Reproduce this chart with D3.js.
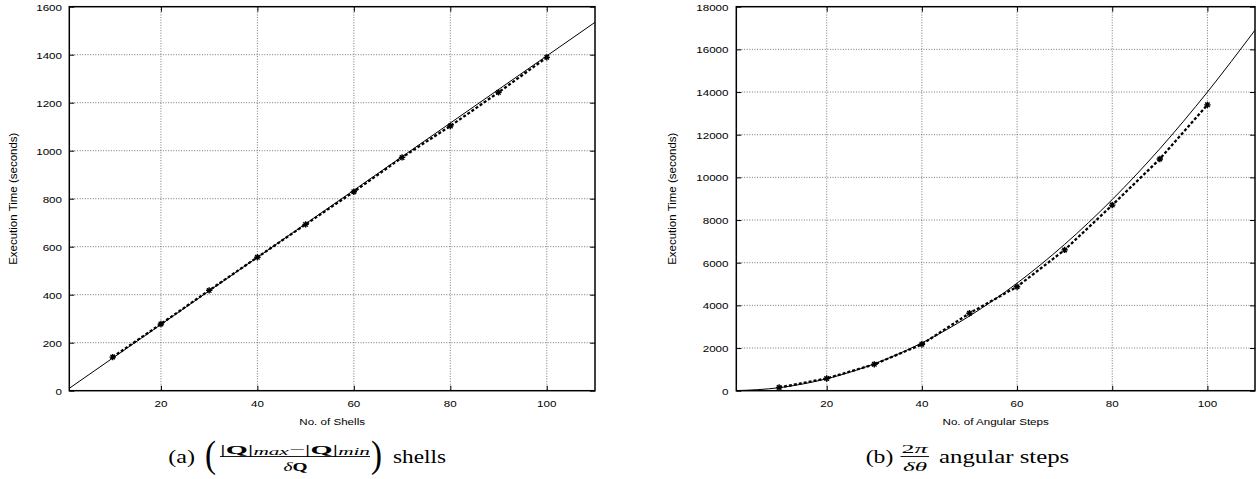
<!DOCTYPE html>
<html>
<head>
<meta charset="utf-8">
<script src="https://cdn.jsdelivr.net/npm/d3@7"></script>
<style>
  html, body { margin: 0; padding: 0; background: #fff; }
  svg { display: block; }
</style>
</head>
<body>
<svg id="chart" width="1260" height="479"></svg>
<script>
// ---------------- data ----------------
const steps = [10, 20, 30, 40, 50, 60, 70, 80, 90, 100];
const shellTimes = [140, 278, 418, 556, 693, 829, 972, 1103, 1243, 1389];
const shellFitX = [1, 110];
const shellFitY = [10, 1535];
const angularTimes = [150, 575, 1235, 2175, 3630, 4875, 6600, 8700, 10860, 13400];
const angularFitX = [1, 10, 20, 30, 40, 50, 60, 70, 80, 90, 100, 110];
const angularFitY = [0, 140, 560, 1260, 2240, 3500, 5040, 6860, 8960, 11340, 14000, 16900];
const xTicks = [20, 40, 60, 80, 100];
const shellYTicks = [0, 200, 400, 600, 800, 1000, 1200, 1400, 1600];
const angularYTicks = [0, 2000, 4000, 6000, 8000, 10000, 12000, 14000, 16000, 18000];
const xDomain = [1, 110];

const svg = d3.select("#chart");
const SANS = "'Liberation Sans', Arial, Helvetica, sans-serif";
const SERIF = "'Liberation Serif', 'Times New Roman', serif";
const SY = 0.78; // vertical squash of horizontal text in reference

function hText(g, x, y, str, anchor, size) {
  return g.append("text")
    .attr("transform", `translate(${x},${y}) scale(1,${SY})`)
    .attr("text-anchor", anchor)
    .style("font-family", SANS)
    .style("font-size", (size || 11.6) + "px")
    .attr("fill", "#000")
    .text(str);
}

function panel(opts) {
  const { x0, x1, y0, y1, yDomain, yTicks, data, fitX, fitY, xLabel, yLabelX, tickLabelRight, curve } = opts;
  const g = svg.append("g");
  const x = d3.scaleLinear().domain(xDomain).range([x0, x1]);
  const y = d3.scaleLinear().domain(yDomain).range([y1, y0]);

  // grid
  const grid = g.append("g").attr("stroke", "#555").attr("stroke-width", 0.8).attr("stroke-dasharray", "1,1.6");
  grid.selectAll("line.h").data(yTicks.filter(t => t > yDomain[0] && t < yDomain[1])).join("line")
    .attr("x1", x0).attr("x2", x1).attr("y1", d => y(d)).attr("y2", d => y(d));
  grid.selectAll("line.v").data(xTicks).join("line")
    .attr("x1", d => x(d)).attr("x2", d => x(d)).attr("y1", y0).attr("y2", y1);

  // axes with inward ticks (mirrored)
  const axL = g.append("g").attr("transform", `translate(${x0},0)`)
    .call(d3.axisLeft(y).tickValues(yTicks).tickSize(-5).tickFormat(""));
  const axR = g.append("g").attr("transform", `translate(${x1},0)`)
    .call(d3.axisRight(y).tickValues(yTicks).tickSize(-5).tickFormat(""));
  const axB = g.append("g").attr("transform", `translate(0,${y1})`)
    .call(d3.axisBottom(x).tickValues(xTicks).tickSize(-5).tickFormat(""));
  const axT = g.append("g").attr("transform", `translate(0,${y0})`)
    .call(d3.axisTop(x).tickValues(xTicks).tickSize(-5).tickFormat(""));
  [axL, axR, axB, axT].forEach(a => {
    a.select(".domain").remove();
    a.selectAll(".tick line").attr("stroke", "#000").attr("stroke-width", 1);
  });

  // tick labels
  yTicks.forEach(t => hText(g, tickLabelRight, y(t) + 4, String(t), "end"));
  xTicks.forEach(t => hText(g, x(t), 406.5, String(t), "middle"));

  // axis labels
  hText(g, (x0 + x1) / 2, 425, xLabel, "middle");
  g.append("text")
    .attr("transform", `translate(${yLabelX},${(y0 + y1) / 2}) rotate(-90)`)
    .attr("text-anchor", "middle")
    .style("font-family", SANS).style("font-size", "11.5px")
    .text("Execution Time (seconds)");

  // fit line (solid)
  const fitPts = fitX.map((v, i) => [v, fitY[i]]);
  g.append("path")
    .attr("d", d3.line().x(d => x(d[0])).y(d => y(d[1])).curve(curve)(fitPts))
    .attr("fill", "none").attr("stroke", "#000").attr("stroke-width", 1);

  // measured line (thick dashed)
  const pts = steps.map((v, i) => [v, data[i]]);
  g.append("path")
    .attr("d", d3.line().x(d => x(d[0])).y(d => y(d[1]))(pts))
    .attr("fill", "none").attr("stroke", "#000").attr("stroke-width", 2.3)
    .attr("stroke-dasharray", "3,2");

  // markers
  const s = 3.2;
  g.selectAll("path.mk").data(pts).join("path")
    .attr("d", d => {
      const cx = x(d[0]), cy = y(d[1]);
      return `M${cx - s},${cy}L${cx + s},${cy}M${cx},${cy - s}L${cx},${cy + s}` +
             `M${cx - s * 0.7},${cy - s * 0.7}L${cx + s * 0.7},${cy + s * 0.7}M${cx - s * 0.7},${cy + s * 0.7}L${cx + s * 0.7},${cy - s * 0.7}`;
    })
    .attr("stroke", "#000").attr("stroke-width", 1.4).attr("fill", "none");

  // border
  g.append("rect").attr("x", x0).attr("y", y0).attr("width", x1 - x0).attr("height", y1 - y0)
    .attr("fill", "none").attr("stroke", "#000").attr("stroke-width", 1.5);
  return g;
}

panel({
  x0: 69.3, x1: 595, y0: 6.7, y1: 390.7,
  yDomain: [0, 1600], yTicks: shellYTicks, data: shellTimes,
  fitX: shellFitX, fitY: shellFitY, xLabel: "No. of Shells",
  yLabelX: 16.5, tickLabelRight: 62, curve: d3.curveLinear
});
panel({
  x0: 736.3, x1: 1255, y0: 6.7, y1: 390.7,
  yDomain: [0, 18000], yTicks: angularYTicks, data: angularTimes,
  fitX: angularFitX, fitY: angularFitY, xLabel: "No. of Angular Steps",
  yLabelX: 676, tickLabelRight: 728.5, curve: d3.curveMonotoneX
});

// ---------------- captions ----------------
const cap = svg.append("g").attr("fill", "#000");
function sText(x, y, str, anchor, size, len, extra, sy) {
  const t = cap.append("text")
    .attr("transform", `translate(${x},${y}) scale(1,${sy || 0.8})`)
    .attr("text-anchor", anchor || "start")
    .style("font-family", SERIF)
    .style("font-size", (size || 22) + "px");
  if (len) t.attr("textLength", len).attr("lengthAdjust", "spacingAndGlyphs");
  if (extra) extra(t);
  else t.text(str);
  return t;
}

// (a)
sText(168.3, 462.5, "(a)", "start", 23, 26.7);
// big parentheses
sText(205, 467, "(", "start", 38, 11, null, 1);
sText(371, 467, ")", "start", 38, 11, null, 1);
// numerator |Q|max − |Q|min
sText(220, 453.5, null, "start", 16, 150, t => {
  t.append("tspan").text("|");
  t.append("tspan").style("font-weight", "bold").text("Q");
  t.append("tspan").text("|");
  t.append("tspan").style("font-style", "italic").style("font-size", "12px").attr("dy", 2).text("max");
  t.append("tspan").attr("dy", -2).text("\u2212|");
  t.append("tspan").style("font-weight", "bold").text("Q");
  t.append("tspan").text("|");
  t.append("tspan").style("font-style", "italic").style("font-size", "12px").attr("dy", 2).text("min");
});
cap.append("line").attr("x1", 220).attr("x2", 370).attr("y1", 456.5).attr("y2", 456.5)
  .attr("stroke", "#000").attr("stroke-width", 0.9);
sText(283.5, 470.5, null, "start", 16, 24, t => {
  t.append("tspan").style("font-style", "italic").text("\u03B4");
  t.append("tspan").style("font-weight", "bold").text("Q");
});
sText(393, 462.5, "shells", "start", 23, 53);

// (b)
sText(865.7, 462.5, "(b)", "start", 23, 27.6);
sText(901.5, 453, null, "start", 16, 26, t => {
  t.append("tspan").text("2");
  t.append("tspan").style("font-style", "italic").text("\u03C0");
});
cap.append("line").attr("x1", 900.5).attr("x2", 929).attr("y1", 456.5).attr("y2", 456.5)
  .attr("stroke", "#000").attr("stroke-width", 0.9);
sText(903, 470.5, "\u03B4\u03B8", "start", 16, 24, t => {
  t.style("font-style", "italic").text("\u03B4\u03B8");
});
sText(939, 462.5, "angular steps", "start", 23, 130.3);
</script>
</body>
</html>
